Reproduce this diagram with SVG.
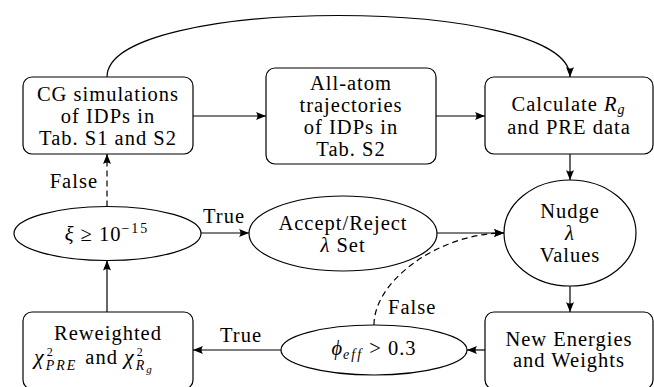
<svg xmlns="http://www.w3.org/2000/svg" width="654" height="387" viewBox="0 0 654 387">
  <defs>
    <marker id="arrow" markerUnits="userSpaceOnUse" markerWidth="10" markerHeight="8" refX="10" refY="4" orient="auto">
      <path d="M0,0 Q3,4 0,8 L10,4 Z" fill="#000" stroke="none"/>
    </marker>
    <style>
      .node { fill: #fff; stroke: #000; stroke-width: 1.2; }
      .lbl { font-family: "Liberation Serif", "Times New Roman", serif; font-size: 20.5px; letter-spacing: 1px; fill: #000; text-anchor: middle; }
      .sm { font-size: 14px; letter-spacing: 2px; }
      .sup { font-size: 12px; letter-spacing: 0; }
      .it { font-style: italic; }
      .edge { fill: none; stroke: #000; stroke-width: 1.2; marker-end: url(#arrow); }
      .dash { stroke-dasharray: 6 4; }
    </style>
  </defs>
  <rect width="654" height="387" fill="#fff"/>

  <!-- connectors -->
  <g id="connectors">
    <path class="edge" d="M107,77 C107,-5 570,-5 570,77"/>
    <path class="edge" d="M193,116 H266"/>
    <path class="edge" d="M436,116 H485"/>
    <path class="edge" d="M570,154 V180"/>
    <path class="edge" d="M570,286 V312"/>
    <path class="edge" d="M485,350 H467"/>
    <path class="edge" d="M281,350 H193"/>
    <path class="edge" d="M107,312 V260.5"/>
    <path class="edge dash" d="M107,206.5 V154"/>
    <path class="edge" d="M201,233 H249"/>
    <path class="edge" d="M437,233 H504"/>
    <path class="edge dash" d="M374,325 C374,280 440,233 504,233"/>
    <text class="lbl" x="224" y="223">True</text>
    <text class="lbl" x="98" y="188" style="text-anchor:end">False</text>
    <text class="lbl" x="241" y="342">True</text>
    <text class="lbl" x="388" y="314" style="text-anchor:start">False</text>
  </g>

  <g id="cg-sim">
    <rect class="node" x="23" y="77" width="170" height="77" rx="9"/>
    <text class="lbl" x="108" y="100.5">CG simulations</text>
    <text class="lbl" x="108" y="122.5">of IDPs in</text>
    <text class="lbl" x="108" y="144.5">Tab. S1 and S2</text>
  </g>

  <g id="all-atom">
    <rect class="node" x="266" y="68" width="170" height="96" rx="9"/>
    <text class="lbl" x="351" y="90">All-atom</text>
    <text class="lbl" x="351" y="112">trajectories</text>
    <text class="lbl" x="351" y="134">of IDPs in</text>
    <text class="lbl" x="351" y="156">Tab. S2</text>
  </g>

  <g id="calculate">
    <rect class="node" x="485" y="77" width="168" height="77" rx="9"/>
    <text class="lbl" x="569" y="111">Calculate <tspan class="it">R</tspan><tspan class="it sm" dy="3">g</tspan></text>
    <text class="lbl" x="569" y="134">and PRE data</text>
  </g>

  <g id="nudge">
    <ellipse class="node" cx="570" cy="233" rx="66" ry="53"/>
    <text class="lbl" x="570" y="218">Nudge</text>
    <text class="lbl it" x="570" y="240">λ</text>
    <text class="lbl" x="570" y="262">Values</text>
  </g>

  <g id="accept">
    <ellipse class="node" cx="343" cy="233.5" rx="94" ry="37.5"/>
    <text class="lbl" x="343" y="229.5">Accept/Reject</text>
    <text class="lbl" x="343" y="251.5"><tspan class="it">λ</tspan> Set</text>
  </g>

  <g id="xi-check">
    <ellipse class="node" cx="107.5" cy="233.5" rx="93.5" ry="27"/>
    <text class="lbl" x="107" y="241"><tspan class="it">ξ</tspan> ≥ 10<tspan class="sm" dy="-8">−15</tspan></text>
  </g>

  <g id="new-energies">
    <rect class="node" x="485" y="312" width="168" height="77" rx="9"/>
    <text class="lbl" x="569" y="345.5">New Energies</text>
    <text class="lbl" x="569" y="367">and Weights</text>
  </g>

  <g id="phi-check">
    <ellipse class="node" cx="374" cy="350" rx="93" ry="25"/>
    <text class="lbl" x="374" y="355"><tspan class="it">ϕ</tspan><tspan class="it sm" dy="4">eff</tspan><tspan dy="-4"> &gt; 0.3</tspan></text>
  </g>

  <g id="reweighted">
    <rect class="node" x="23" y="312" width="170" height="77" rx="9"/>
    <text class="lbl" x="108" y="340">Reweighted</text>
    <text class="lbl" x="34" y="364" style="text-anchor:start"><tspan class="it" font-size="22">χ</tspan><tspan class="sup" dx="2" dy="-8">2</tspan><tspan class="sm it" dx="-7" dy="14" letter-spacing="3">PRE</tspan><tspan dx="8" dy="-6">and </tspan><tspan class="it" font-size="22">χ</tspan><tspan class="sup" dx="2" dy="-8">2</tspan><tspan class="sm it" dx="-7" dy="14">R</tspan><tspan class="it" font-size="11" dy="3">g</tspan></text>
  </g>
</svg>
